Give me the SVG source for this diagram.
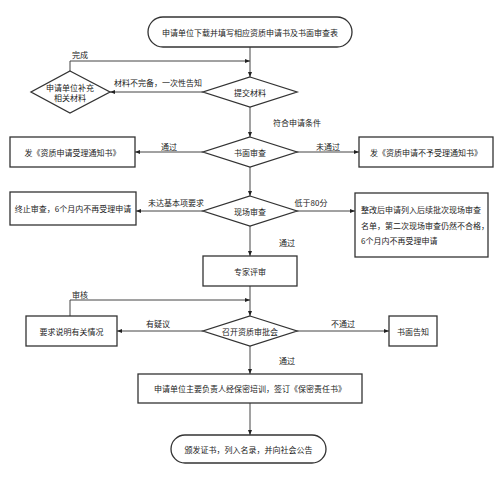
<svg xmlns="http://www.w3.org/2000/svg" width="499" height="480" viewBox="0 0 499 480">
<defs>
<marker id="ah" viewBox="0 0 10 10" refX="10" refY="5" markerWidth="5" markerHeight="5" orient="auto" markerUnits="userSpaceOnUse">
<path d="M0,1 L10,5 L0,9 Z" fill="#222"/>
</marker>
</defs>
<style>
.n{fill:#fff;stroke:#333;stroke-width:1.3}
.t{font-family:"Noto Sans CJK SC","Noto Sans",sans-serif;font-size:8px;fill:#222;text-anchor:middle;dominant-baseline:central}
.tl{font-family:"Noto Sans CJK SC","Noto Sans",sans-serif;font-size:8px;fill:#222;dominant-baseline:central}
.c{fill:none;stroke:#444;stroke-width:1;marker-end:url(#ah)}
</style>
<rect width="499" height="480" fill="#fff"/>
<g id="connectors">
<path class="c" d="M250,47 V77"/>
<path class="c" d="M70,71 V61 H250"/>
<path class="c" d="M203,92 H110"/>
<path class="c" d="M250,107 V137"/>
<path class="c" d="M203,152 H135"/>
<path class="c" d="M296,152 H359"/>
<path class="c" d="M250,167 V196"/>
<path class="c" d="M203,211 H136"/>
<path class="c" d="M296,211 H355"/>
<path class="c" d="M250,226 V256"/>
<path class="c" d="M250,286 V316"/>
<path class="c" d="M70,316 V300 H250"/>
<path class="c" d="M203,331 H117"/>
<path class="c" d="M296,331 H389"/>
<path class="c" d="M250,346 V374"/>
<path class="c" d="M250,403 V435"/>
<text class="t" x="80" y="54">完成</text>
<text class="t" x="158" y="82">材料不完备，一次性告知</text>
<text class="t" x="297" y="122">符合申请条件</text>
<text class="t" x="169" y="146">通过</text>
<text class="t" x="328" y="146">未通过</text>
<text class="t" x="176" y="202">未达基本项要求</text>
<text class="t" x="311" y="202">低于80分</text>
<text class="t" x="287" y="242">通过</text>
<text class="t" x="80" y="294">审核</text>
<text class="t" x="158" y="323">有疑议</text>
<text class="t" x="343" y="323">不通过</text>
<text class="t" x="287" y="360">通过</text>
</g>
<g id="start"><rect class="n" x="148" y="17" width="204" height="30" rx="15"/><text class="t" x="250" y="32">申请单位下载并填写相应资质申请书及书面审查表</text></g>
<g id="submit"><polygon class="n" points="250,77 297,92 250,107 203,92"/><text class="t" x="250" y="92">提交材料</text></g>
<g id="supplement"><polygon class="n" points="70,71 110,92 70,113 31,92"/><text class="t" x="70" y="87">申请单位补充</text><text class="t" x="70" y="97">相关材料</text></g>
<g id="written"><polygon class="n" points="250,137 297,152 250,167 203,152"/><text class="t" x="250" y="152">书面审查</text></g>
<g id="accept"><rect class="n" x="10" y="137" width="125" height="30"/><text class="t" x="72.5" y="152">发《资质申请受理通知书》</text></g>
<g id="reject"><rect class="n" x="359" y="137" width="134" height="30"/><text class="t" x="426" y="152">发《资质申请不予受理通知书》</text></g>
<g id="onsite"><polygon class="n" points="250,196 297,211 250,226 203,211"/><text class="t" x="250" y="211">现场审查</text></g>
<g id="terminate"><rect class="n" x="10" y="192" width="126" height="33"/><text class="t" x="73" y="208.5">终止审查，6个月内不再受理申请</text></g>
<g id="rectify"><rect class="n" x="355" y="193" width="133" height="64"/><text class="tl" x="361" y="209">整改后申请列入后续批次现场审查</text><text class="tl" x="361" y="225">名单，第二次现场审查仍然不合格，</text><text class="tl" x="361" y="240">6个月内不再受理申请</text></g>
<g id="expert"><rect class="n" x="203" y="256" width="94" height="30"/><text class="t" x="250" y="271">专家评审</text></g>
<g id="meeting"><polygon class="n" points="250,316 297,331 250,346 203,331"/><text class="t" x="250" y="331">召开资质审批会</text></g>
<g id="explain"><rect class="n" x="26" y="316" width="91" height="30"/><text class="t" x="71.5" y="331">要求说明有关情况</text></g>
<g id="notify"><rect class="n" x="389" y="316" width="48" height="30"/><text class="t" x="413" y="331">书面告知</text></g>
<g id="training"><rect class="n" x="138" y="374" width="224" height="29"/><text class="t" x="250" y="388.5">申请单位主要负责人经保密培训，签订《保密责任书》</text></g>
<g id="end"><rect class="n" x="171" y="435" width="155" height="28" rx="14"/><text class="t" x="248.5" y="449">颁发证书，列入名录，并向社会公告</text></g>
</svg>
